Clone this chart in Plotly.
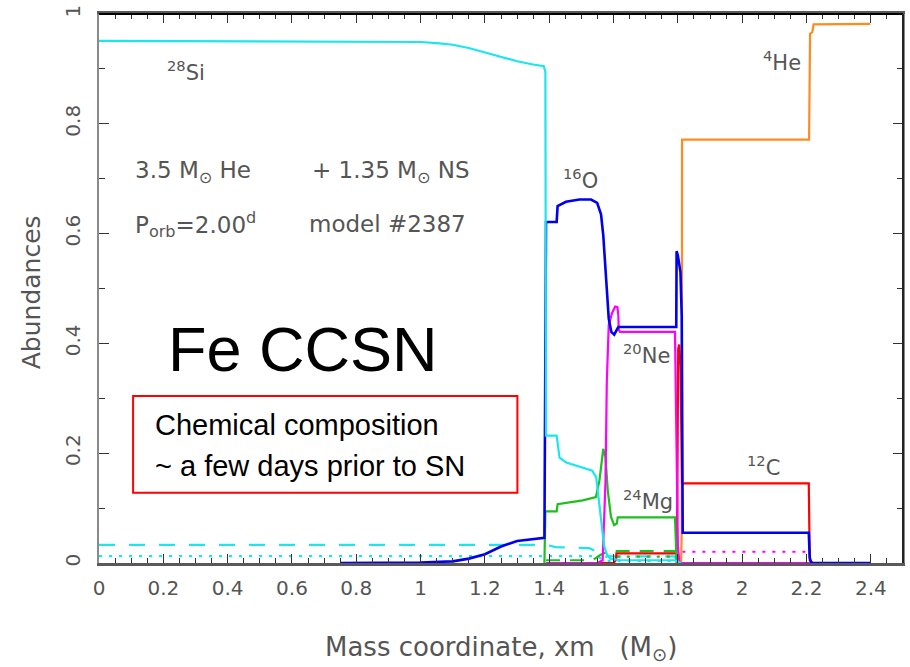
import plotly.graph_objects as go

# ---------------- data ----------------
si28_x = [0.0, 0.9, 1.0, 1.05, 1.1, 1.15, 1.2, 1.25, 1.3, 1.35, 1.375, 1.383, 1.388, 1.39,
          1.423, 1.432, 1.453, 1.503, 1.534, 1.546, 1.556, 1.565, 1.571, 1.58, 1.59, 1.62, 1.79, 1.80, 1.81]
si28_y = [0.951, 0.950, 0.949, 0.947, 0.944, 0.938, 0.930, 0.921, 0.914, 0.908, 0.906, 0.905, 0.895, 0.232,
          0.232, 0.192, 0.183, 0.174, 0.168, 0.156, 0.11, 0.06, 0.03, 0.015, 0.008, 0.005, 0.005, 0.003, 0.0]

si_dash_x = [0.0, 1.39, 1.42, 1.525, 1.55, 1.565, 1.58, 1.79, 1.80]
si_dash_y = [0.033, 0.033, 0.029, 0.027, 0.02, 0.01, 0.012, 0.012, 0.0]

si_dot_x = [0.0, 1.39, 1.55, 1.565, 1.58, 1.79, 1.80]
si_dot_y = [0.0127, 0.0127, 0.0127, 0.006, 0.004, 0.004, 0.0]

o16_x = [0.75, 0.9, 1.0, 1.1, 1.15, 1.2, 1.25, 1.3, 1.35, 1.385, 1.39, 1.423, 1.426, 1.452, 1.494,
         1.53, 1.549, 1.561, 1.568, 1.574, 1.579, 1.585, 1.593, 1.602, 1.612, 1.615, 1.795, 1.796,
         1.80, 1.808, 1.812, 1.814, 1.815, 2.207, 2.21, 2.215, 2.4]
o16_y = [0.0, 0.0, 0.001, 0.003, 0.008, 0.016, 0.030, 0.040, 0.044, 0.046, 0.621, 0.621, 0.650, 0.658, 0.662,
         0.662, 0.656, 0.635, 0.597, 0.536, 0.494, 0.445, 0.421, 0.416, 0.427, 0.430, 0.430, 0.568,
         0.560, 0.530, 0.45, 0.30, 0.055, 0.055, 0.01, 0.0, 0.0]

ne20_x = [1.39, 1.55, 1.566, 1.575, 1.579, 1.585, 1.595, 1.605, 1.612, 1.615, 1.616, 1.62, 1.791,
          1.795, 1.80, 1.805, 2.4]
ne20_y = [0.0, 0.0, 0.005, 0.15, 0.33, 0.433, 0.455, 0.467, 0.466, 0.45, 0.425, 0.421, 0.421,
          0.25, 0.03, 0.0, 0.0]

ne_dot_x = [1.814, 2.208]
ne_dot_y = [0.0205, 0.0205]

c12_x = [1.39, 1.60, 1.607, 1.609, 1.795, 1.798, 1.801, 1.804, 1.808, 1.811, 1.813, 2.207, 2.21, 2.22]
c12_y = [0.0, 0.0, 0.005, 0.0175, 0.0175, 0.1, 0.39, 0.398, 0.36, 0.25, 0.145, 0.145, 0.005, 0.0]

mg24_x = [1.385, 1.388, 1.423, 1.426, 1.504, 1.545, 1.556, 1.568, 1.575, 1.582, 1.592, 1.602, 1.61,
          1.613, 1.791, 1.793, 1.796, 1.80]
mg24_y = [0.0, 0.094, 0.094, 0.107, 0.114, 0.120, 0.150, 0.208, 0.192, 0.132, 0.084, 0.069, 0.072,
          0.083, 0.083, 0.04, 0.0, 0.0]

mg_dash_x = [1.39, 1.534, 1.56, 1.587, 1.795, 1.80]
mg_dash_y = [0.005, 0.005, 0.015, 0.0217, 0.0217, 0.0]

mg_dot_x = [1.61, 1.795]
mg_dot_y = [0.0115, 0.0115]

he4_x = [1.81, 1.812, 1.813, 2.208, 2.211, 2.218, 2.222, 2.398]
he4_y = [0.0, 0.06, 0.771, 0.771, 0.964, 0.967, 0.981, 0.982]

x_ticks = [0, 0.2, 0.4, 0.6, 0.8, 1, 1.2, 1.4, 1.6, 1.8, 2, 2.2, 2.4]
x_tick_text = ["0", "0.2", "0.4", "0.6", "0.8", "1", "1.2", "1.4", "1.6", "1.8", "2", "2.2", "2.4"]
y_ticks = [0, 0.2, 0.4, 0.6, 0.8, 1]
y_tick_text = ["0", "0.2", "0.4", "0.6", "0.8", "1"]

# ---------------- style ----------------
CYAN = "#1be6ee"
BLUE = "#0000ee"
MAGENTA = "#ff00ff"
RED = "#ff0000"
GREEN = "#1cbf1c"
ORANGE = "#ff8a1e"
TXT = "#555555"
FONT = "DejaVu Sans"

fig = go.Figure()


def add(x, y, color, dash="solid", width=2.0):
    fig.add_trace(go.Scatter(x=x, y=y, mode="lines",
                             line=dict(color=color, width=width, dash=dash),
                             showlegend=False, hoverinfo="skip"))


add(si_dot_x, si_dot_y, CYAN, "3px,7px", 2.2)
add(si_dash_x, si_dash_y, CYAN, "16px,14px", 2.2)
add(mg_dot_x, mg_dot_y, GREEN, "3px,7px", 2.2)
add(mg_dash_x, mg_dash_y, GREEN, "14px,10px", 2.2)
add(ne_dot_x, ne_dot_y, MAGENTA, "3px,7px", 2.2)
add(he4_x, he4_y, ORANGE, "solid", 2.2)
add(c12_x, c12_y, RED, "solid", 2.2)
add(mg24_x, mg24_y, GREEN, "solid", 2.2)
add(ne20_x, ne20_y, MAGENTA, "solid", 2.2)
add(o16_x, o16_y, BLUE, "solid", 2.6)
add(si28_x, si28_y, CYAN, "solid", 2.2)

fig.update_layout(
    width=910, height=667,
    margin=dict(l=99, r=5, t=10, b=104),
    paper_bgcolor="white", plot_bgcolor="white",
    font=dict(family=FONT, color=TXT, size=19),
    xaxis=dict(range=[0, 2.5], showgrid=False, zeroline=False,
               showline=True, linecolor="#5a5a5a", linewidth=3,
               ticks="inside", ticklen=9, tickwidth=1.3, tickcolor="#333",
               tickvals=x_ticks, ticktext=x_tick_text, mirror="allticks",
               ticklabelstandoff=5,
               minor=dict(dtick=0.05, tick0=0, ticks="inside", ticklen=5, tickwidth=1.2,
                          tickcolor="#333", showgrid=False),
               tickfont=dict(family=FONT, size=20, color=TXT)),
    yaxis=dict(range=[0, 1], showgrid=False, zeroline=False,
               showline=True, linecolor="#8a8a8a", linewidth=1.5,
               ticks="inside", ticklen=10, tickwidth=1.3, tickcolor="#333",
               tickvals=y_ticks, ticktext=y_tick_text, mirror="allticks",
               tickangle=-90, ticklabelstandoff=9,
               minor=dict(dtick=0.1, tick0=0, ticks="inside", ticklen=6, tickwidth=1.2,
                          tickcolor="#333", showgrid=False),
               tickfont=dict(family=FONT, size=20, color=TXT)),
)

# black frame at top and right
fig.add_shape(type="line", xref="paper", yref="paper", x0=0, x1=1, y0=1, y1=1,
              line=dict(color="black", width=2))
fig.add_shape(type="line", xref="paper", yref="paper", x0=1, x1=1, y0=0, y1=1,
              line=dict(color="#222", width=2))

# axis titles
fig.add_annotation(xref="paper", yref="paper", x=0.5, y=-0.156, showarrow=False,
                   text="Mass coordinate, xm\u00a0\u00a0\u00a0(M<sub>\u2299</sub>)",
                   font=dict(family=FONT, size=26, color=TXT), xanchor="center", yanchor="middle")
fig.add_annotation(xref="paper", yref="paper", x=-0.084, y=0.494, showarrow=False,
                   text="Abundances", textangle=-90,
                   font=dict(family=FONT, size=25, color=TXT), xanchor="center", yanchor="middle")

# isotope labels
iso = [("<sup>28</sup>Si", 0.205, 0.897), ("<sup>4</sup>He", 2.059, 0.915),
       ("<sup>16</sup>O", 1.438, 0.70), ("<sup>20</sup>Ne", 1.624, 0.381),
       ("<sup>24</sup>Mg", 1.624, 0.114), ("<sup>12</sup>C", 2.009, 0.177)]
for t, x, y in iso:
    fig.add_annotation(x=x, y=y, text=t, showarrow=False, xanchor="left", yanchor="middle",
                       font=dict(family=FONT, size=21, color=TXT))

# model description
desc_font = dict(family=FONT, size=23, color=TXT)
fig.add_annotation(x=0.106, y=0.712, text="3.5 M<sub>\u2299</sub> He", showarrow=False,
                   xanchor="left", yanchor="middle", font=desc_font)
fig.add_annotation(x=0.655, y=0.712, text="+ 1.35 M<sub>\u2299</sub> NS", showarrow=False,
                   xanchor="left", yanchor="middle", font=desc_font)
fig.add_annotation(x=0.106, y=0.617, text="P<sub>orb</sub>=2.00<sup>d</sup>", showarrow=False,
                   xanchor="left", yanchor="middle", font=desc_font)
fig.add_annotation(x=0.648, y=0.617, text="model #2387", showarrow=False,
                   xanchor="left", yanchor="middle", font=desc_font)

# Fe CCSN and boxed note
fig.add_annotation(x=0.633, y=0.389, text="Fe CCSN", showarrow=False,
                   xanchor="center", yanchor="middle",
                   font=dict(family="Liberation Sans", size=63, color="black"))
fig.add_shape(type="rect", x0=0.106, x1=1.301, y0=0.128, y1=0.304,
              line=dict(color="#ff0000", width=2), fillcolor="rgba(0,0,0,0)")
fig.add_annotation(x=0.168, y=0.252, text="Chemical composition", showarrow=False,
                   xanchor="left", yanchor="middle",
                   font=dict(family="Liberation Sans", size=29, color="black"))
fig.add_annotation(x=0.168, y=0.177, text="~ a few days prior to SN", showarrow=False,
                   xanchor="left", yanchor="middle",
                   font=dict(family="Liberation Sans", size=29, color="black"))

fig.write_html("out.html")
